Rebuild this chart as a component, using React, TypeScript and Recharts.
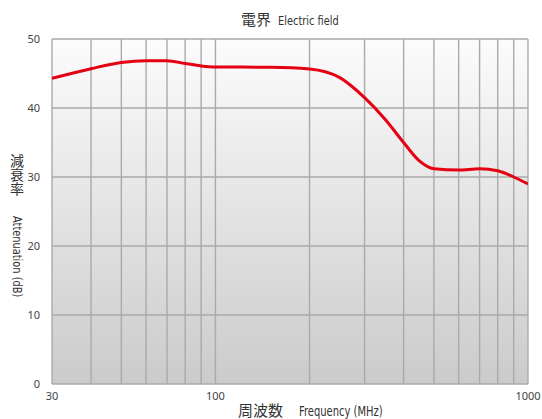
import React from 'react';
import { LineChart, Line, XAxis, YAxis, CartesianGrid } from 'recharts';

const FREQS = [30, 40, 50, 60, 70, 80, 90, 100, 150, 200, 250, 300, 350, 400, 450, 500, 600, 700, 800, 900, 1000];
const ATTEN = [44.3, 45.7, 46.6, 46.85, 46.85, 46.45, 46.1, 45.95, 45.9, 45.65, 44.4, 41.5, 38.3, 35.0, 32.3, 31.2, 31.0, 31.2, 30.9, 30.0, 29.0];

const X_GRID = [30, 40, 50, 60, 70, 80, 90, 100, 200, 300, 400, 500, 600, 700, 800, 900, 1000];
const X_LABELS = [30, 100, 1000];
const Y_TICKS = [0, 10, 20, 30, 40, 50];

const data = FREQS.map((f, i) => ({ f, v: ATTEN[i] }));

const CJK = '"Noto Sans CJK JP", "Noto Sans", sans-serif';
const NARROW = '"Liberation Sans Narrow", "DejaVu Sans Condensed", "Open Sans", sans-serif';

const narrow = (size: number): React.CSSProperties => ({
  fontFamily: NARROW,
  fontSize: size,
  display: 'inline-block',
  transform: 'scaleX(0.84)',
  transformOrigin: 'left center',
});

export default function App() {
  return (
    <div style={{ position: 'absolute', left: 0, top: 0, width: 542, height: 419, background: '#fff' }}>
      <LineChart width={542} height={419} data={data} margin={{ top: 39, right: 14, bottom: 0, left: 0 }}>
        <defs>
          <linearGradient id="bgGrad" x1="0" y1="0" x2="0" y2="1">
            <stop offset="0%" stopColor="#fcfcfc" />
            <stop offset="100%" stopColor="#cbcbcb" />
          </linearGradient>
        </defs>
        <CartesianGrid stroke="#aaaaaa" strokeWidth={1.4} fill="url(#bgGrad)" fillOpacity={1} />
        <XAxis
          dataKey="f"
          type="number"
          scale="log"
          domain={[30, 1000]}
          ticks={X_GRID}
          interval={0}
          height={35}
          allowDataOverflow
          axisLine={false}
          tickLine={false}
          tickMargin={2}
          tickFormatter={(v) => (X_LABELS.includes(v) ? String(v) : '')}
          tick={{ fill: '#444', fontSize: 11, fontFamily: '"Noto Sans", sans-serif' }}
        />
        <YAxis
          type="number"
          domain={[0, 50]}
          ticks={Y_TICKS}
          width={52}
          axisLine={false}
          tickLine={false}
          tickMargin={6}
          tick={{ fill: '#444', fontSize: 11, fontFamily: '"Noto Sans", sans-serif' }}
        />
        <Line
          dataKey="v"
          type="monotone"
          stroke="#e50012"
          strokeWidth={3}
          dot={false}
          isAnimationActive={false}
        />
      </LineChart>

      <div style={{ position: 'absolute', left: 241, top: 9, color: '#333', lineHeight: '20px', whiteSpace: 'nowrap' }}>
        <span style={{ fontFamily: CJK, fontSize: 15 }}>電界</span>
        <span style={{ ...narrow(13), marginLeft: 7 }}>Electric field</span>
      </div>

      <div style={{ position: 'absolute', left: 238, top: 401, color: '#333', lineHeight: '17px', whiteSpace: 'nowrap' }}>
        <span style={{ fontFamily: CJK, fontSize: 15 }}>周波数</span>
        <span style={{ ...narrow(13.2), marginLeft: 16 }}>Frequency (MHz)</span>
      </div>

      <div
        style={{
          position: 'absolute',
          left: 9,
          top: 154,
          writingMode: 'vertical-rl',
          textOrientation: 'upright',
          fontFamily: CJK,
          fontSize: 14,
          lineHeight: '16px',
          color: '#333',
          whiteSpace: 'nowrap',
        }}
      >
        減衰率
      </div>

      <div
        style={{
          position: 'absolute',
          left: 24,
          top: 216,
          color: '#333',
          whiteSpace: 'nowrap',
          transform: 'rotate(90deg) scaleX(0.84)',
          transformOrigin: 'left top',
          fontFamily: NARROW,
          fontSize: 13,
          lineHeight: '14px',
        }}
      >
        Attenuation (dB)
      </div>
    </div>
  );
}
